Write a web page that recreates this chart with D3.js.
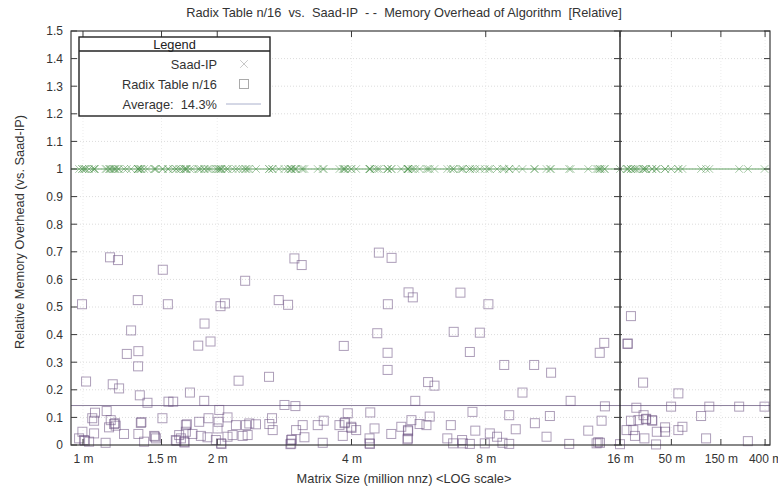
<!DOCTYPE html>
<html>
<head>
<meta charset="utf-8">
<script src="https://cdn.jsdelivr.net/npm/d3@7"></script>
<style>
  html, body { margin: 0; padding: 0; background: #fff; }
  svg { display: block; font-family: "Liberation Sans", Arial, Helvetica, sans-serif; }
  text { white-space: pre; }
</style>
</head>
<body>
<svg id="chart" width="778" height="493"></svg>
<script>
// Matrix sizes (million non-zeros) of the test matrices
const matrixSizes = [
  0.995, 1.016, 1.15, 1.198, 1.327, 1.55, 1.282, 1.254, 1.331, 1.329, 1.166, 1.205, 1.51, 2.31, 1.873,
  1.813, 1.932, 2.034, 2.081, 2.747, 2.883, 2.233, 2.613, 3.844, 4.569, 4.826, 4.819, 4.82, 2.979, 3.093,
  4.607, 4.92, 5.37, 5.49, 7.02, 8.11, 6.78, 7.76, 7.37, 8.80, 10.27, 11.21, 5.94, 6.14, 20.4,
  14.75, 14.41, 18.9, 19.0, 26.7, 58.4, 9.67, 12.4, 5.56, 2.83, 2.994, 1.341, 1.395, 1.555, 1.593,
  1.737, 1.87, 14.8, 23.0, 49.7, 116, 225, 395, 14.55, 20.4, 27.0, 24.1, 28.4, 28.6, 32.5,
  32.8, 96.7, 18.5, 22.3, 27.5, 36.2, 43.5, 43.5, 58.4, 63.9, 14.43, 14.3, 16.0, 35.6, 108,
  273, 21.5, 7.47, 9.03, 11.14, 10.31, 5.99, 5.89, 6.68, 9.34, 13.58, 7.58, 8.17, 8.48, 6.56,
  7.08, 6.76, 7.11, 7.37, 7.96, 8.72, 9.03, 10.95, 12.31, 14.18, 3.924, 4.407, 2.36, 2.443, 2.654,
  2.617, 2.663, 3.109, 3.005, 3.36, 3.466, 3.759, 3.858, 3.87, 3.994, 4.0, 4.098, 4.505, 2.34, 3.137,
  3.448, 2.928, 2.94, 2.918, 2.93, 3.824, 4.39, 4.39, 4.40, 4.912, 5.173, 5.45, 5.352, 5.36, 5.352,
  5.34, 5.685, 2.021, 2.109, 1.13, 1.064, 1.049, 1.059, 1.154, 1.174, 1.18, 1.184, 1.348, 1.352, 1.507,
  1.701, 1.71, 1.822, 1.912, 2.014, 2.003, 2.203, 2.32, 0.997, 1.059, 1.144, 1.236, 1.331, 1.643, 1.701,
  1.76, 1.838, 2.109, 0.98, 1.005, 1.01, 1.032, 1.124, 1.371, 1.444, 1.45, 1.457, 1.615, 1.62, 1.658,
  1.686, 1.69, 1.902, 1.986, 2.039, 2.045, 2.165, 2.28
];

// Memory of Radix Table n/16 relative to Saad-IP, same order as matrixSizes
const radixRelative = [
  0.51, 0.23, 0.68, 0.67, 0.525, 0.51, 0.415, 0.33, 0.34, 0.285, 0.22, 0.205, 0.635, 0.595, 0.44,
  0.36, 0.375, 0.503, 0.513, 0.525, 0.508, 0.233, 0.247, 0.359, 0.405, 0.51, 0.334, 0.272, 0.676, 0.652,
  0.697, 0.678, 0.553, 0.535, 0.552, 0.51, 0.41, 0.407, 0.337, 0.29, 0.29, 0.262, 0.228, 0.215, 0.467,
  0.37, 0.334, 0.366, 0.368, 0.226, 0.187, 0.19, 0.16, 0.16, 0.145, 0.141, 0.18, 0.153, 0.157, 0.157,
  0.19, 0.16, 0.14, 0.135, 0.139, 0.139, 0.139, 0.139, 0.088, 0.088, 0.108, 0.09, 0.093, 0.095, 0.09,
  0.088, 0.105, 0.054, 0.033, 0.024, 0.048, 0.064, 0.048, 0.054, 0.066, 0.008, 0.01, 0.003, 0.002, 0.024,
  0.014, 0.054, 0.12, 0.108, 0.105, 0.079, 0.103, 0.072, 0.072, 0.057, 0.052, 0.052, 0.042, 0.03, 0.024,
  0.018, 0.006, 0.006, 0.004, 0.006, 0.008, 0.004, 0.03, 0.004, 0.006, 0.115, 0.118, 0.078, 0.075, 0.097,
  0.076, 0.054, 0.072, 0.054, 0.072, 0.088, 0.072, 0.079, 0.082, 0.066, 0.062, 0.054, 0.06, 0.036, 0.028,
  0.008, 0.018, 0.02, 0.003, 0.005, 0.033, 0.024, 0.006, 0.004, 0.04, 0.066, 0.09, 0.054, 0.05, 0.024,
  0.02, 0.076, 0.127, 0.1, 0.123, 0.117, 0.097, 0.088, 0.09, 0.076, 0.079, 0.07, 0.08, 0.083, 0.097,
  0.072, 0.075, 0.084, 0.097, 0.084, 0.06, 0.072, 0.072, 0.048, 0.042, 0.064, 0.04, 0.04, 0.036, 0.048,
  0.04, 0.033, 0.03, 0.024, 0.018, 0.015, 0.012, 0.008, 0.012, 0.033, 0.03, 0.024, 0.018, 0.015, 0.024,
  0.012, 0.009, 0.028, 0.018, 0.006, 0.004, 0.036, 0.033
];

// Saad-IP is the reference, so every matrix sits at 1.0
const saadRelative = 1.0;
const averageOverhead = 0.143;

const xTickValues = [1, 1.5, 2, 4, 8, 16, 50, 150, 400];
const yTickValues = [0, 0.1, 0.2, 0.3, 0.4, 0.5, 0.6, 0.7, 0.8, 0.9, 1, 1.1, 1.2, 1.3, 1.4, 1.5];
const axisBreak = 16;   // log scale is compressed beyond 16 m

const titleText = "Radix Table n/16  vs.  Saad-IP  - -  Memory Overhead of Algorithm  [Relative]";
const xLabelText = "Matrix Size (million nnz) <LOG scale>";
const yLabelText = "Relative Memory Overhead (vs. Saad-IP)";
const legendTitle = "Legend";
const seriesNames = ["Saad-IP", "Radix Table n/16"];

const svg = d3.select("#chart");
const W = 778, H = 493;
const m = { left: 71, right: 8, top: 31, bottom: 48 };
const x0 = m.left, x1 = W - m.right, y0 = m.top, y1 = H - m.bottom;
const labelSize = 12.8, tickSize = 12;

// piecewise log scale: wide for 1–16 m, narrow above 16 m
const x = d3.scaleLog().domain([0.94, axisBreak, 446]).range([x0, 620, x1]);
const y = d3.scaleLinear().domain([0, 1.5]).range([y1, y0]);

const fmtY = v => String(+v.toFixed(1));
const fmtX = v => v + " m";

// grid
const grid = svg.append("g").attr("stroke", "#dcdcdc").attr("stroke-width", 1).attr("stroke-dasharray", "1,2");
grid.selectAll("line.h").data(yTickValues.filter(v => v > 0 && v < 1.5)).join("line")
  .attr("x1", x0).attr("x2", x1).attr("y1", d => y(d)).attr("y2", d => y(d));
grid.selectAll("line.v").data(xTickValues.filter(v => v !== axisBreak)).join("line")
  .attr("y1", y0).attr("y2", y1).attr("x1", d => x(d)).attr("x2", d => x(d))
  .attr("stroke", "#ececec");

// reference lines
svg.append("line").attr("x1", x0).attr("x2", x1)
  .attr("y1", y(saadRelative)).attr("y2", y(saadRelative))
  .attr("stroke", "#5f9f5f").attr("stroke-width", 1.2);
svg.append("line").attr("x1", x0).attr("x2", x1)
  .attr("y1", y(averageOverhead)).attr("y2", y(averageOverhead))
  .attr("stroke", "#8c7f9c").attr("stroke-width", 1);

// Saad-IP crosses
const cs = 3.8;
const crosses = svg.append("g").attr("stroke", "#4f964f").attr("stroke-width", 1).attr("stroke-opacity", 0.5).attr("fill", "none");
crosses.selectAll("path").data(matrixSizes).join("path")
  .attr("d", d => {
    const cx = x(d), cy = y(saadRelative);
    return `M${cx - cs},${cy - cs}L${cx + cs},${cy + cs}M${cx - cs},${cy + cs}L${cx + cs},${cy - cs}`;
  });

// Radix Table squares
const sq = 9;
const squares = svg.append("g").attr("fill", "none").attr("stroke", "#6a4f80").attr("stroke-width", 1).attr("stroke-opacity", 0.55);
squares.selectAll("rect").data(matrixSizes.map((s, i) => [s, radixRelative[i]])).join("rect")
  .attr("x", d => x(d[0]) - sq / 2).attr("y", d => y(d[1]) - sq / 2)
  .attr("width", sq).attr("height", sq);

// frame and axis break
svg.append("rect").attr("x", x0).attr("y", y0).attr("width", x1 - x0).attr("height", y1 - y0)
  .attr("fill", "none").attr("stroke", "#3a3a3a").attr("stroke-width", 1.2);
svg.append("line").attr("x1", x(axisBreak)).attr("x2", x(axisBreak)).attr("y1", y0).attr("y2", y1)
  .attr("stroke", "#222").attr("stroke-width", 1.4);

// y ticks on left, right and on the break line
const tk = svg.append("g").attr("stroke", "#3a3a3a").attr("stroke-width", 1);
yTickValues.forEach(v => {
  const yy = y(v);
  tk.append("line").attr("x1", x0).attr("x2", x0 + 6).attr("y1", yy).attr("y2", yy);
  tk.append("line").attr("x1", x1 - 6).attr("x2", x1).attr("y1", yy).attr("y2", yy);
  tk.append("line").attr("x1", x(axisBreak) - 6).attr("x2", x(axisBreak) + 2).attr("y1", yy).attr("y2", yy);
});
xTickValues.forEach(v => {
  const xx = x(v);
  tk.append("line").attr("x1", xx).attr("x2", xx).attr("y1", y1).attr("y2", y1 - 6);
  tk.append("line").attr("x1", xx).attr("x2", xx).attr("y1", y0).attr("y2", y0 + 6);
});

// tick labels via d3 axes (lines hidden, frame drawn above)
const yAxis = svg.append("g").attr("transform", `translate(${x0},0)`)
  .call(d3.axisLeft(y).tickValues(yTickValues).tickFormat(fmtY).tickSize(0).tickPadding(8));
const xAxis = svg.append("g").attr("transform", `translate(0,${y1})`)
  .call(d3.axisBottom(x).tickValues(xTickValues).tickFormat(fmtX).tickSize(0).tickPadding(9));
[yAxis, xAxis].forEach(a => {
  a.select(".domain").remove();
  a.selectAll("text").attr("font-size", tickSize).attr("fill", "#333")
    .attr("font-family", "'Liberation Sans', Arial, sans-serif");
});

// titles
svg.append("text").attr("x", 404).attr("y", 17).attr("text-anchor", "middle")
  .attr("font-size", labelSize).attr("fill", "#333").text(titleText);
svg.append("text").attr("x", 404).attr("y", 483).attr("text-anchor", "middle")
  .attr("font-size", labelSize).attr("fill", "#333").text(xLabelText);
svg.append("text").attr("transform", "translate(24,232) rotate(-90)").attr("text-anchor", "middle")
  .attr("font-size", labelSize).attr("fill", "#333").text(yLabelText);

// legend
const lg = svg.append("g");
const lx0 = 79, lx1 = 270, ly0 = 37, ly1 = 116, ldiv = 51;
lg.append("rect").attr("x", lx0).attr("y", ly0).attr("width", lx1 - lx0).attr("height", ly1 - ly0)
  .attr("fill", "#fff").attr("stroke", "#222").attr("stroke-width", 1.4);
lg.append("line").attr("x1", lx0).attr("x2", lx1).attr("y1", ldiv).attr("y2", ldiv)
  .attr("stroke", "#222").attr("stroke-width", 1.4);
lg.append("text").attr("x", (lx0 + lx1) / 2).attr("y", 49).attr("text-anchor", "middle")
  .attr("font-size", labelSize).attr("fill", "#222").text(legendTitle);
const rows = [seriesNames[0], seriesNames[1], "Average:  " + (averageOverhead * 100).toFixed(1) + "%"];
const rowY = [64, 84, 104];
rows.forEach((t, i) => {
  lg.append("text").attr("x", 217).attr("y", rowY[i] + 4.5).attr("text-anchor", "end")
    .attr("font-size", labelSize).attr("fill", "#333").text(t);
});
const mx = 244;
lg.append("path").attr("d", `M${mx - cs},${rowY[0] - cs}L${mx + cs},${rowY[0] + cs}M${mx - cs},${rowY[0] + cs}L${mx + cs},${rowY[0] - cs}`)
  .attr("stroke", "#c8c8c8").attr("stroke-width", 1).attr("fill", "none");
lg.append("rect").attr("x", mx - sq / 2).attr("y", rowY[1] - sq / 2).attr("width", sq).attr("height", sq)
  .attr("fill", "none").attr("stroke", "#aaa").attr("stroke-width", 1);
lg.append("line").attr("x1", 226).attr("x2", 261).attr("y1", rowY[2]).attr("y2", rowY[2])
  .attr("stroke", "#aab0cc").attr("stroke-width", 1);
</script>
</body>
</html>
